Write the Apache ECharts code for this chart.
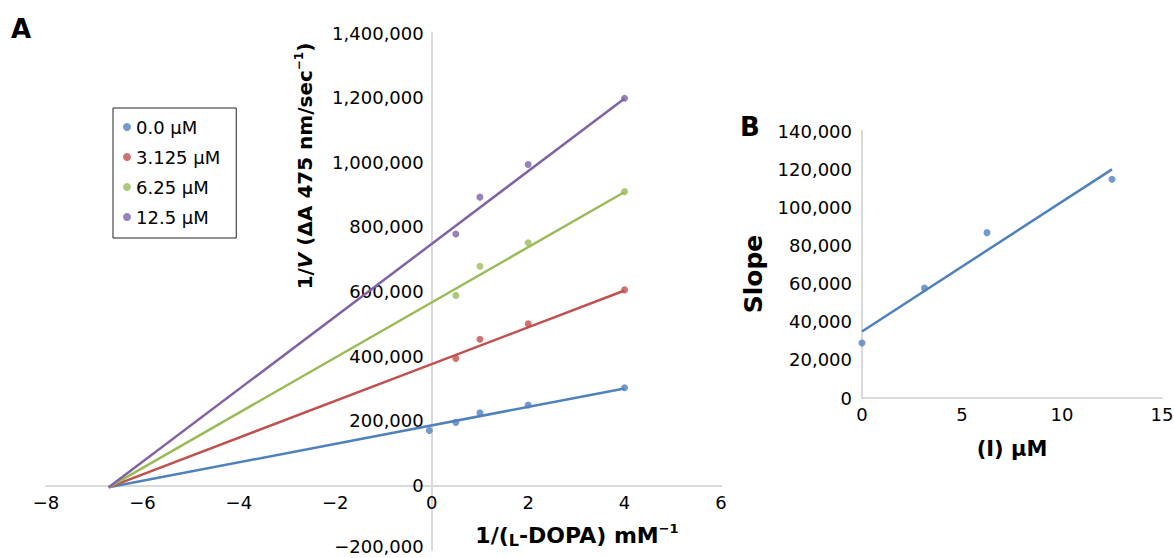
<!DOCTYPE html>
<html><head><meta charset="utf-8">
<script src="https://cdn.jsdelivr.net/npm/echarts@6/dist/echarts.min.js"></script>
<style>html,body{margin:0;padding:0;background:#fff}#c{width:1174px;height:558px}</style>
</head><body><div id="c"></div>
<script>
// ---------- data ----------
const seriesNames = ['0.0 µM', '3.125 µM', '6.25 µM', '12.5 µM'];
const colors = ['#4F81BD', '#C0504D', '#9BBB59', '#8064A2'];
const xBlue = [-0.05, 0.5, 1, 2, 4];
const yBlue = [170000, 195000, 225000, 249000, 302000];
const xInv = [0.5, 1, 2, 4];
const yRed = [393000, 452000, 500000, 605000];
const yGreen = [588000, 678000, 751000, 909000];
const yPurple = [778000, 892000, 993000, 1198000];
// trend line end points
const fitX = [-6.7, 4];
const fitStartY = -6000;
const fitEndY = [300000, 603000, 908000, 1197000];
// panel B
const inhibitor = [0, 3.125, 6.25, 12.5];
const slopes = [28800, 57600, 86700, 114700];
const slopeFitX = [0, 12.5];
const slopeFitY = [34900, 119900];
// axis ranges
const xRangeA = [-8, 6], yRangeA = [-200000, 1400000];
const xRangeB = [0, 15], yRangeB = [0, 140000];

// ---------- layout ----------
const gridA = { left: 46, top: 33, width: 675, height: 517 };
const gridB = { left: 862, top: 131, width: 300, height: 267 };
// place the axes of panel A through the origin
const yAxisOffsetA = -(0 - xRangeA[0]) / (xRangeA[1] - xRangeA[0]) * gridA.width;
const xAxisOffsetA = -(0 - yRangeA[0]) / (yRangeA[1] - yRangeA[0]) * gridA.height;

// ---------- helpers ----------
const FONT = 'DejaVu Sans';
function fmt(v) {
  const s = Math.abs(v).toLocaleString('en-US');
  return (v < 0 ? '\u2212' : '') + s;
}
function zip(xs, ys) { return xs.map((x, i) => [x, ys[i]]); }
const axisLineStyle = { color: '#d9d9d9', width: 2 };
const labelStyle = { fontFamily: FONT, fontSize: 18, color: '#000', formatter: fmt };

const pointSets = [zip(xBlue, yBlue), zip(xInv, yRed), zip(xInv, yGreen), zip(xInv, yPurple)];
const series = [];
pointSets.forEach((pts, i) => {
  series.push({
    name: 'fit' + i, type: 'line', xAxisIndex: 0, yAxisIndex: 0,
    data: [[fitX[0], fitStartY], [fitX[1], fitEndY[i]]],
    showSymbol: false, symbol: 'none',
    lineStyle: { color: colors[i], width: 2.5 }, z: 2
  });
});
pointSets.forEach((pts, i) => {
  series.push({
    name: seriesNames[i], type: 'scatter', xAxisIndex: 0, yAxisIndex: 0,
    data: pts, symbol: 'circle', symbolSize: 7,
    itemStyle: { color: colors[i] }, z: 3
  });
});
series.push({
  name: 'slopeFit', type: 'line', xAxisIndex: 1, yAxisIndex: 1,
  data: zip(slopeFitX, slopeFitY), showSymbol: false, symbol: 'none',
  lineStyle: { color: colors[0], width: 2.5 }
});
series.push({
  name: 'slopePts', type: 'scatter', xAxisIndex: 1, yAxisIndex: 1,
  data: zip(inhibitor, slopes), symbol: 'circle', symbolSize: 7,
  itemStyle: { color: colors[0] }
});

function rich(size) {
  return {
    b: { fontFamily: FONT, fontSize: size, fontWeight: 'bold', color: '#000', lineHeight: size + 4 },
    i: { fontFamily: FONT, fontSize: size, fontWeight: 'bold', fontStyle: 'italic', color: '#000', lineHeight: size + 4 },
    sc: { fontFamily: FONT, fontSize: Math.round(size * 0.73), fontWeight: 'bold', color: '#000', lineHeight: size, verticalAlign: 'bottom' },
    s: { fontFamily: FONT, fontSize: Math.round(size * 0.6), fontWeight: 'bold', color: '#000', lineHeight: Math.round(size * 0.6), verticalAlign: 'top' }
  };
}

const chart = echarts.init(document.getElementById('c'), null, { renderer: 'svg' });
chart.setOption({
  animation: false,
  backgroundColor: '#fff',
  grid: [
    Object.assign({ outerBoundsMode: 'none', containLabel: false }, gridA),
    Object.assign({ outerBoundsMode: 'none', containLabel: false }, gridB)
  ],
  xAxis: [
    { type: 'value', gridIndex: 0, min: xRangeA[0], max: xRangeA[1], interval: 2,
      position: 'bottom', offset: xAxisOffsetA,
      axisLine: { show: true, onZero: false, lineStyle: axisLineStyle },
      axisTick: { show: false }, splitLine: { show: false },
      axisLabel: Object.assign({ margin: 8 }, labelStyle) },
    { type: 'value', gridIndex: 1, min: xRangeB[0], max: xRangeB[1], interval: 5,
      axisLine: { show: true, onZero: false, lineStyle: axisLineStyle },
      axisTick: { show: false }, splitLine: { show: false },
      axisLabel: Object.assign({ margin: 7 }, labelStyle) }
  ],
  yAxis: [
    { type: 'value', gridIndex: 0, min: yRangeA[0], max: yRangeA[1], interval: 200000,
      position: 'left', offset: yAxisOffsetA,
      axisLine: { show: true, onZero: false, lineStyle: axisLineStyle },
      axisTick: { show: false }, splitLine: { show: false },
      axisLabel: Object.assign({ margin: 8 }, labelStyle, {
        formatter: v => v === yRangeA[0] ? '{m|' + fmt(v) + '}' : fmt(v),
        rich: { m: { fontFamily: FONT, fontSize: 18, color: '#000', padding: [0, 0, 7, 0] } }
      }) },
    { type: 'value', gridIndex: 1, min: yRangeB[0], max: yRangeB[1], interval: 20000,
      axisLine: { show: true, onZero: false, lineStyle: axisLineStyle },
      axisTick: { show: false }, splitLine: { show: false },
      axisLabel: Object.assign({ margin: 10 }, labelStyle) }
  ],
  legend: {
    data: seriesNames, orient: 'vertical', left: 113, top: 108,
    icon: 'circle', itemWidth: 8, itemHeight: 8, itemGap: 12,
    padding: [10, 16, 12, 10],
    borderColor: '#222', borderWidth: 1, backgroundColor: '#fff',
    textStyle: { fontFamily: FONT, fontSize: 18, color: '#000' }
  },
  series: series,
  graphic: [
    { type: 'text', x: 21, y: 29, style: { text: 'A', fontFamily: FONT, fontSize: 26, fontWeight: 'bold', fill: '#000', align: 'center', verticalAlign: 'middle' } },
    { type: 'text', x: 750, y: 127, style: { text: 'B', fontFamily: FONT, fontSize: 26, fontWeight: 'bold', fill: '#000', align: 'center', verticalAlign: 'middle' } },
    { type: 'text', x: 305, y: 166, rotation: Math.PI / 2,
      style: { text: '{b|1/}{i|V}{b| (ΔA 475 nm/sec}{s|\u22121}{b|)}', rich: rich(20), align: 'center', verticalAlign: 'middle' } },
    { type: 'text', x: 577, y: 535,
      style: { text: '{b|1/(}{sc|L}{b|-DOPA) mM}{s|\u22121}', rich: rich(22), align: 'center', verticalAlign: 'middle' } },
    { type: 'text', x: 753, y: 274, rotation: Math.PI / 2,
      style: { text: 'Slope', fontFamily: FONT, fontSize: 25, fontWeight: 'bold', fill: '#000', align: 'center', verticalAlign: 'middle' } },
    { type: 'text', x: 1012, y: 449,
      style: { text: '(I) µM', fontFamily: FONT, fontSize: 21, fontWeight: 'bold', fill: '#000', align: 'center', verticalAlign: 'middle' } }
  ]
});
</script>
</body></html>
